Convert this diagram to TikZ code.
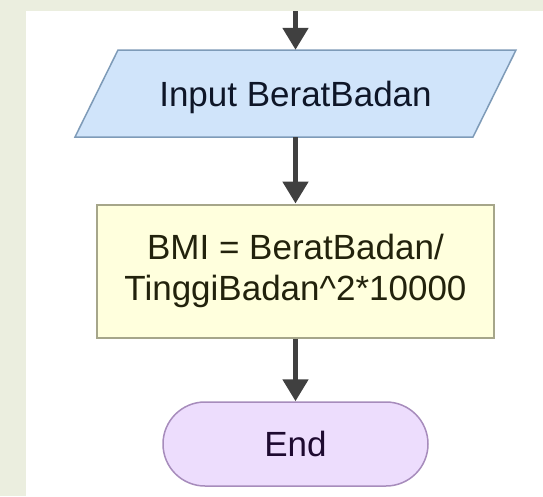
\documentclass[tikz,border=0pt]{standalone}
\usepackage{fontspec}
\setmainfont{Liberation Sans}
\usetikzlibrary{arrows.meta}

\definecolor{pagebg}{HTML}{EBEEDF}
\definecolor{iofill}{HTML}{D0E4FA}
\definecolor{iodraw}{HTML}{7E9BB8}
\definecolor{procfill}{HTML}{FFFFDD}
\definecolor{procdraw}{HTML}{A6A68A}
\definecolor{termfill}{HTML}{EDDDFD}
\definecolor{termdraw}{HTML}{A78CBC}
\definecolor{flowline}{HTML}{404040}
\definecolor{iotext}{HTML}{0E1628}
\definecolor{proctext}{HTML}{22220C}
\definecolor{termtext}{HTML}{1E0A30}

\tikzset{
  chart/.style={font=\fontsize{35}{42}\selectfont, inner sep=0pt},
  iobox/.style={chart, minimum width=398pt, minimum height=87pt,
    text height=25pt, text depth=0pt, text=iotext},
  iooutline/.style={fill=iofill, draw=iodraw, line width=1.5pt, line join=miter},
  procbox/.style={chart, rectangle, draw=procdraw, fill=procfill, line width=2pt,
    minimum width=397pt, minimum height=133pt, align=center, text=proctext},
  termbox/.style={chart, rectangle, rounded corners=42pt, draw=termdraw, fill=termfill,
    line width=1.5pt, minimum width=265pt, minimum height=84pt,
    text height=25pt, text depth=0pt, text=termtext},
  flow/.style={draw=flowline, line width=5pt,
    -{Triangle[width=25pt,length=22pt]}}
}

\begin{document}
\begin{tikzpicture}[x=1pt,y=-1pt]
  % page and canvas
  \fill[pagebg] (0,0) rectangle (543,496);
  \fill[white] (26,11) rectangle (543,496);
  \useasboundingbox (0,0) rectangle (543,496);

  % input parallelogram
  \path[iooutline] (75,137) -- (118,50) -- (516,50) -- (473,137) -- cycle;
  \node[iobox] (inp) at (295.5,93.5) {Input BeratBadan};

  % computation step
  \node[procbox] (calc) at (295.5,271) {BMI = BeratBadan/\\[-1pt]TinggiBadan\textasciicircum 2*10000};

  % terminator
  \node[termbox] (fin) at (295.5,444) {End};

  % connectors
  \coordinate (entry) at (295.5,11);
  \draw[flow] (entry) -- (inp.north);
  \draw[flow] (inp.south) -- (calc.north);
  \draw[flow] (calc.south) -- (fin.north);
\end{tikzpicture}
\end{document}
